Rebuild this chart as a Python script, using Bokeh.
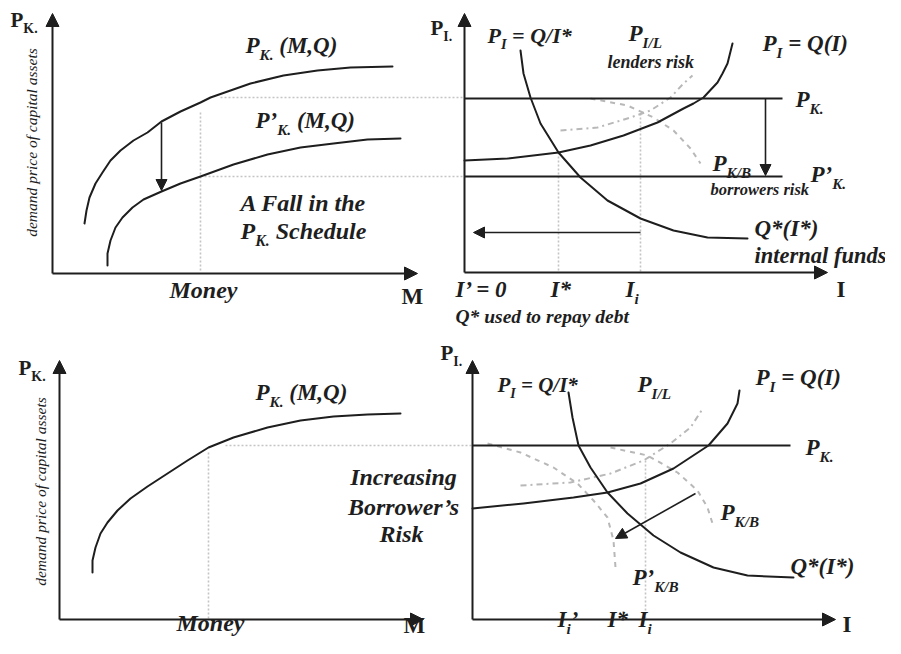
import math
from bokeh.plotting import figure
from bokeh.models import Range1d, Arrow, NormalHead
from bokeh.core.properties import value
from bokeh.embed import file_html
from bokeh.resources import INLINE

# ---------------- schematic data (pixel frame) ----------------
# top-left: demand price of capital assets vs money
TL_PK_X = [84, 86, 89, 95, 102, 110, 120, 133, 147, 161, 180, 200, 210, 250, 283, 317, 350, 392]
TL_PK_Y = [223, 210, 197, 183, 172, 160, 150, 140, 132, 121, 111, 102, 97, 83, 75, 70, 67, 66]
TL_PK2_X = [107, 107, 110, 115, 122, 132, 143, 161, 180, 200, 233, 267, 300, 333, 367, 400]
TL_PK2_Y = [265, 253, 240, 227, 217, 207, 199, 191, 183, 176, 164, 154, 147, 143, 139, 138]
# top-right: supply price, internal-funds hyperbola, risk curves
TR_SUP_X = [464, 507, 558, 590, 623, 657, 683, 693, 703, 717, 722, 727, 732]
TR_SUP_Y = [160, 158, 152, 145, 135, 122, 108, 103, 97, 82, 73, 63, 43]
TR_HYP_X = [520, 523, 530, 540, 558, 580, 607, 640, 673, 707, 747]
TR_HYP_Y = [50, 73, 97, 123, 152, 177, 200, 218, 230, 237, 238]
TR_LEND_X = [560, 597, 630, 650, 670, 683, 692]
TR_LEND_Y = [130, 127, 117, 110, 97, 83, 75]
TR_BORR_X = [590, 627, 653, 673, 690, 700]
TR_BORR_Y = [98, 105, 117, 130, 148, 163]
TR_PK_LEVEL = 98
TR_PK2_LEVEL = 176
# bottom-left
BL_PK_X = [92, 92, 95, 100, 107, 117, 130, 147, 167, 187, 208, 233, 267, 300, 333, 367, 400]
BL_PK_Y = [572, 560, 547, 533, 522, 510, 498, 486, 473, 460, 447, 437, 427, 420, 416, 414, 413]
# bottom-right
BR_SUP_X = [472, 523, 573, 607, 640, 673, 708, 727, 737, 739]
BR_SUP_Y = [508, 503, 497, 492, 483, 468, 445, 423, 403, 390]
BR_HYP_X = [568, 572, 578, 590, 607, 627, 653, 680, 713, 747, 793]
BR_HYP_Y = [392, 417, 445, 467, 492, 513, 535, 552, 567, 575, 577]
BR_LEND_X = [520, 570, 610, 643, 670, 690, 703]
BR_LEND_Y = [485, 482, 473, 460, 443, 427, 407]
BR_BORR_X = [610, 647, 677, 697, 707, 712]
BR_BORR_Y = [447, 455, 472, 490, 507, 523]
BR_BORR2_X = [487, 520, 553, 577, 593, 607, 613, 615]
BR_BORR2_Y = [443, 452, 467, 483, 500, 517, 540, 567]
BR_PK_LEVEL = 445

W, H = 885, 638

p = figure(width=W, height=H, output_backend="svg", toolbar_location=None,
           x_range=Range1d(0, W), y_range=Range1d(H, 0), min_border=0)
p.axis.visible = False
p.grid.visible = False
p.outline_line_color = None
p.background_fill_color = "white"

INK = "#1e1e1e"
GRAY = "#b8b8b8"
DOT = "#c4c4c4"
FONT = value("Liberation Serif")
SHIFT = 0.36  # measured render offset of the alphabetic baseline, in em

# ---- widths (Times metrics, per 1000 em) for composing subscripts ----
BI = {' ': 250, '(': 333, ')': 333, '*': 500, ',': 250, '.': 250, '/': 278, '=': 570, '0': 500,
      '’': 333, 'A': 667, 'B': 667, 'I': 389, 'K': 667, 'L': 611, 'M': 889, 'P': 611, 'Q': 722,
      'S': 556, 'a': 500, 'b': 500, 'c': 444, 'd': 500, 'e': 444, 'f': 333, 'g': 500, 'h': 556,
      'i': 278, 'k': 500, 'l': 278, 'n': 556, 'o': 500, 'p': 500, 'r': 389, 's': 389, 't': 278,
      'u': 556, 'w': 667, 'y': 444}
BU = {'P': 611, 'K': 778, 'I': 389, '.': 250, 'M': 944}


def rich(x, y, parts, size, style="bold italic", sub=0.66, drop=0.27):
    table = BU if style == "bold" else BI
    cx = x
    for t, s in parts:
        fs = size * sub if s else size
        lead = len(t) - len(t.lstrip(" "))
        cx += lead * 250 / 1000 * fs
        t = t.lstrip(" ")
        base = y + (size * drop if s else 0)
        p.text(x=[cx], y=[base - SHIFT * fs], text=[t], text_font=FONT,
               text_font_size=f"{fs:.1f}px", text_font_style=style, text_color=INK,
               text_baseline="alphabetic", text_align="left")
        cx += sum(table.get(c, 500) for c in t) / 1000 * fs


def label(x, y, t, size, style="bold italic", align="left"):
    p.text(x=[x], y=[y - SHIFT * size], text=[t], text_font=FONT, text_font_size=f"{size}px",
           text_font_style=style, text_color=INK, text_baseline="alphabetic", text_align=align)


def vlabel(x, y, t, size, style="italic"):
    p.text(x=[x - SHIFT * size], y=[y], text=[t], text_font=FONT, text_font_size=f"{size}px",
           text_font_style=style, text_color=INK, text_baseline="alphabetic",
           text_align="center", angle=math.pi / 2)


def arrow(x0, y0, x1, y1, size=12, lw=2):
    p.add_layout(Arrow(x_start=x0, y_start=y0, x_end=x1, y_end=y1, line_color=INK, line_width=lw,
                       end=NormalHead(size=size, fill_color=INK, line_color=INK, line_width=1)))


def dotted(xs, ys):
    p.line(xs, ys, line_color=DOT, line_width=1.6, line_dash="2 2")


# ---------------- axes ----------------
for (ox, oy, ty, tx) in [(52, 273, 13, 417), (464, 272, 13, 827), (59, 619, 360, 423), (472, 619, 360, 835)]:
    arrow(ox, oy, ox, ty, size=13)
    arrow(ox, oy, tx, oy, size=13)

# ---------------- guide lines ----------------
dotted([200, 200], [112, 272])
dotted([220, 464], [97, 97])
dotted([200, 464], [176, 176])
dotted([558, 558], [152, 272])
dotted([640, 640], [113, 272])
dotted([208, 208], [452, 619])
dotted([225, 472], [445, 445])
dotted([645, 645], [460, 619])

# ---------------- risk curves ----------------
p.line(TR_LEND_X, TR_LEND_Y, line_color=GRAY, line_width=2, line_dash="6 4 2 4")
p.line(TR_BORR_X, TR_BORR_Y, line_color=GRAY, line_width=2, line_dash="5 5")
p.line(BR_LEND_X, BR_LEND_Y, line_color=GRAY, line_width=2, line_dash="6 4 2 4")
p.line(BR_BORR_X, BR_BORR_Y, line_color=GRAY, line_width=2, line_dash="5 5")
p.line(BR_BORR2_X, BR_BORR2_Y, line_color=GRAY, line_width=2, line_dash="5 5")

# ---------------- main curves ----------------
for xs, ys in [(TL_PK_X, TL_PK_Y), (TL_PK2_X, TL_PK2_Y), (BL_PK_X, BL_PK_Y),
               (TR_SUP_X, TR_SUP_Y), (TR_HYP_X, TR_HYP_Y), (BR_SUP_X, BR_SUP_Y), (BR_HYP_X, BR_HYP_Y)]:
    p.line(xs, ys, line_color=INK, line_width=2, line_join="round", line_cap="round")

p.line([464, 782], [TR_PK_LEVEL, TR_PK_LEVEL], line_color=INK, line_width=2)
p.line([464, 782], [TR_PK2_LEVEL, TR_PK2_LEVEL], line_color=INK, line_width=2)
p.line([472, 790], [BR_PK_LEVEL, BR_PK_LEVEL], line_color=INK, line_width=2)

# ---------------- shift arrows ----------------
arrow(161, 122, 161, 190, size=11, lw=1.6)
arrow(765, TR_PK_LEVEL, 765, TR_PK2_LEVEL - 1, size=11, lw=1.6)
arrow(640, 232, 473, 232, size=11, lw=1.6)
arrow(695, 493, 615, 538, size=11, lw=1.6)

# ---------------- texts: top-left ----------------
rich(10, 27, [("P", 0), ("K.", 1)], 21, style="bold")
vlabel(37, 142, "demand price of capital assets", 15.5)
rich(245, 53, [("P", 0), ("K.", 1), (" (M,Q)", 0)], 23)
rich(255, 128, [("P’", 0), ("K.", 1), (" (M,Q)", 0)], 23)
label(303, 211, "A Fall in the", 24, align="center")
rich(240, 239, [("P", 0), ("K.", 1), (" Schedule", 0)], 24)
label(203, 298, "Money", 24, align="center")
label(401, 304, "M", 23, style="bold")

# ---------------- texts: top-right ----------------
rich(430, 35, [("P", 0), ("I.", 1)], 21, style="bold")
rich(487, 43, [("P", 0), ("I", 1), (" = Q/I*", 0)], 22)
rich(628, 41, [("P", 0), ("I/L", 1)], 23)
label(607, 68, "lenders risk", 18)
rich(762, 51, [("P", 0), ("I", 1), (" = Q(I)", 0)], 23)
rich(795, 107, [("P", 0), ("K.", 1)], 23)
rich(810, 182, [("P’", 0), ("K.", 1)], 23)
rich(712, 171, [("P", 0), ("K/B", 1)], 23)
label(710, 195, "borrowers risk", 16.5)
label(754, 236, "Q*(I*)", 23)
label(754, 263, "internal funds", 22.5)
label(455, 297, "I’ = 0", 23)
label(550, 297, "I*", 23)
rich(625, 297, [("I", 0), ("i", 1)], 23)
label(836, 297, "I", 23, style="bold")
label(455, 323, "Q* used to repay debt", 19.5)

# ---------------- texts: bottom-left ----------------
rich(18, 375, [("P", 0), ("K.", 1)], 21, style="bold")
vlabel(46, 491, "demand price of capital assets", 15.5)
rich(255, 400, [("P", 0), ("K.", 1), (" (M,Q)", 0)], 23)
label(210, 631, "Money", 24, align="center")
label(403, 633, "M", 23, style="bold")
label(403, 485, "Increasing", 24, align="center")
label(403, 515, "Borrower’s", 24, align="center")
label(401, 542, "Risk", 24, align="center")

# ---------------- texts: bottom-right ----------------
rich(440, 360, [("P", 0), ("I.", 1)], 21, style="bold")
rich(497, 392, [("P", 0), ("I", 1), (" = Q/I*", 0)], 21)
rich(637, 392, [("P", 0), ("I/L", 1)], 23)
rich(755, 385, [("P", 0), ("I", 1), (" = Q(I)", 0)], 23)
rich(805, 455, [("P", 0), ("K.", 1)], 23)
rich(720, 520, [("P", 0), ("K/B", 1)], 23)
label(790, 574, "Q*(I*)", 23)
rich(632, 585, [("P’", 0), ("K/B", 1)], 23)
rich(557, 627, [("I", 0), ("i", 1), ("’", 0)], 23)
label(607, 627, "I*", 23)
rich(638, 627, [("I", 0), ("i", 1)], 23)
label(842, 632, "I", 23, style="bold")

open("out.html", "w").write(file_html(p, INLINE))
